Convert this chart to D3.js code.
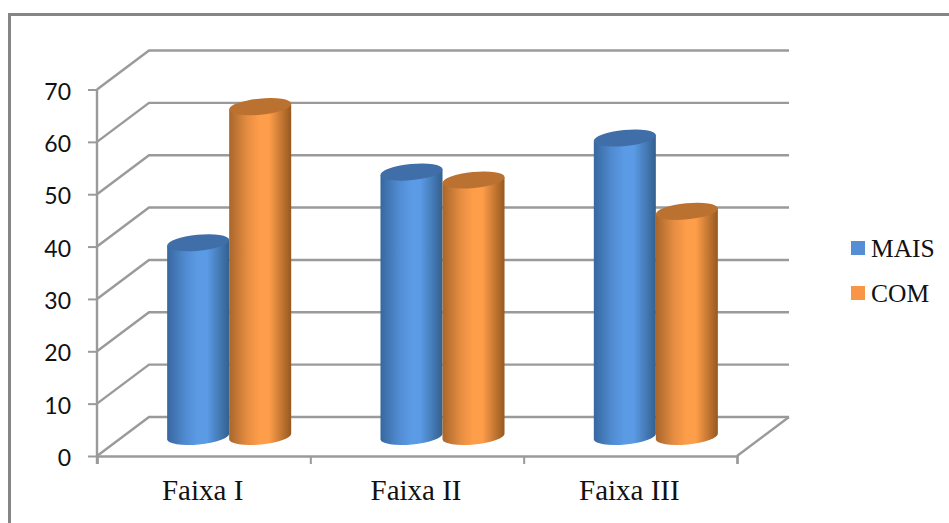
<!DOCTYPE html>
<html>
<head>
<meta charset="utf-8">
<script src="https://cdn.jsdelivr.net/npm/d3@7/dist/d3.min.js"></script>
<style>
  html, body { margin: 0; padding: 0; background: #fff; overflow: hidden; }
  svg { display: block; }
</style>
</head>
<body>
<svg id="chart" width="949" height="523"></svg>
<script>
// Chart values
const categories = ["Faixa I", "Faixa II", "Faixa III"];
const seriesNames = ["MAIS", "COM"];
const maisValues = [37, 50.5, 57];
const comValues = [63, 49, 43];
const yTicks = [0, 10, 20, 30, 40, 50, 60, 70];

const seriesColors = {
  MAIS: { edgeL: "#37679f", edgeR: "#33608f", mid: "#5b9be6", top: "#3f6ea8", key: "#558ed5" },
  COM:  { edgeL: "#a8662c", edgeR: "#96591f", mid: "#ff9e4a", top: "#bb7231", key: "#f79646" }
};

const svg = d3.select("#chart");
const GRID = "#9a9a9a";

// Oblique projection: the floor recedes up and to the right
const depthX = 52, depthY = -39;
const x = d3.scaleBand().domain(categories).range([97, 737]);
const y = d3.scaleLinear().domain([0, 70]).range([456, 89.5]);
const inner = d3.scaleBand().domain(seriesNames)
  .range([0, x.bandwidth()]).paddingOuter(0.72).paddingInner(0);

// Outer frame, open on the right and bottom
svg.append("path")
  .attr("d", "M9.5,523V14.5H949")
  .attr("fill", "none").attr("stroke", "#858585").attr("stroke-width", 3);

// Gridlines on the side wall and back wall
const grid = svg.append("g").attr("fill", "none").attr("stroke", GRID).attr("stroke-width", 2.4);
yTicks.forEach(t => {
  grid.append("path").attr("d", d3.line()([
    [x.range()[0], y(t)],
    [x.range()[0] + depthX, y(t) + depthY],
    [x.range()[1] + depthX, y(t) + depthY]
  ]));
});
// Right edge of the floor
grid.append("line")
  .attr("x1", x.range()[1]).attr("y1", y(0))
  .attr("x2", x.range()[1] + depthX).attr("y2", y(0) + depthY);

// Axes
const yAxis = svg.append("g").attr("transform", `translate(${x.range()[0]},0)`)
  .call(d3.axisLeft(y).tickValues(yTicks).tickSize(9).tickPadding(17));
const xTickPositions = d3.range(categories.length + 1).map(i => x.range()[0] + i * x.step());
const xAxis = svg.append("g").attr("transform", `translate(0,${y(0)})`)
  .call(d3.axisBottom(d3.scaleLinear().domain(x.range()).range(x.range()))
    .tickValues(xTickPositions).tickSize(8).tickFormat(""));
[yAxis, xAxis].forEach(a => {
  a.selectAll("path.domain").attr("stroke", GRID).attr("stroke-width", 2.4);
  a.selectAll(".tick line").attr("stroke", GRID).attr("stroke-width", 2);
});
yAxis.select("path.domain").attr("d", `M0,${y(70)}V${y(0) + 8}`);
yAxis.selectAll("text")
  .attr("font-family", "Lato, sans-serif").attr("font-size", 23).attr("fill", "#111")
  .attr("dy", "0.42em");

// Category labels
svg.append("g").selectAll("text").data(categories).join("text")
  .attr("x", d => x(d) + x.bandwidth() / 2 - 1)
  .attr("y", 500)
  .attr("text-anchor", "middle")
  .attr("font-family", "'Liberation Serif', serif")
  .attr("font-size", 29).attr("fill", "#111")
  .text(d => d);

// Horizontal shading that gives each column its round look
const defs = svg.append("defs");
seriesNames.forEach(name => {
  const c = seriesColors[name];
  const g = defs.append("linearGradient").attr("id", "body-" + name)
    .attr("x1", 0).attr("x2", 1).attr("y1", 0).attr("y2", 0);
  [[0, c.edgeL], [0.3, d3.interpolateRgb(c.edgeL, c.mid)(0.72)], [0.5, c.mid],
   [0.64, c.mid], [1, c.edgeR]].forEach(([o, col]) => {
    g.append("stop").attr("offset", o).attr("stop-color", col);
  });
});

// Columns stand halfway into the floor depth
const ry = 8, tilt = 3;
const rows = categories.flatMap((cat, i) => [
  { cat, name: "MAIS", value: maisValues[i] },
  { cat, name: "COM", value: comValues[i] }
]);
const cols = svg.append("g").selectAll("g").data(rows).join("g");

function bounds(d) {
  const w = inner.bandwidth();
  const left = x(d.cat) + inner(d.name) + depthX / 2 - 0.5;
  return { left, right: left + w, rx: w / 2,
           top: y(d.value) + depthY / 2, base: y(0) + depthY / 2 };
}
const angle = -Math.atan(tilt / 31) * 180 / Math.PI;

cols.append("path")
  .attr("fill", d => `url(#body-${d.name})`)
  .attr("d", d => {
    const b = bounds(d);
    return `M${b.left},${b.top + tilt}L${b.right},${b.top - tilt}` +
      `L${b.right},${b.base - tilt}` +
      `A${b.rx},${ry} ${angle} 0 1 ${b.left},${b.base + tilt}Z`;
  });
cols.append("path")
  .attr("fill", d => seriesColors[d.name].top)
  .attr("d", d => {
    const b = bounds(d);
    return `M${b.left},${b.top + tilt}A${b.rx},${ry} ${angle} 1 1 ${b.right},${b.top - tilt}` +
      `A${b.rx},${ry} ${angle} 1 1 ${b.left},${b.top + tilt}Z`;
  });

// Legend
const legendY = d3.scalePoint().domain(seriesNames).range([248, 293]);
const legend = svg.append("g").selectAll("g").data(seriesNames).join("g")
  .attr("transform", d => `translate(851,${legendY(d)})`);
legend.append("rect").attr("x", 0).attr("y", -7).attr("width", 14).attr("height", 14)
  .attr("fill", d => seriesColors[d].key);
legend.append("text").attr("x", 20).attr("y", 9)
  .attr("font-family", "'Liberation Serif', serif")
  .attr("font-size", 25.5).attr("fill", "#111")
  .text(d => d);
</script>
</body>
</html>
